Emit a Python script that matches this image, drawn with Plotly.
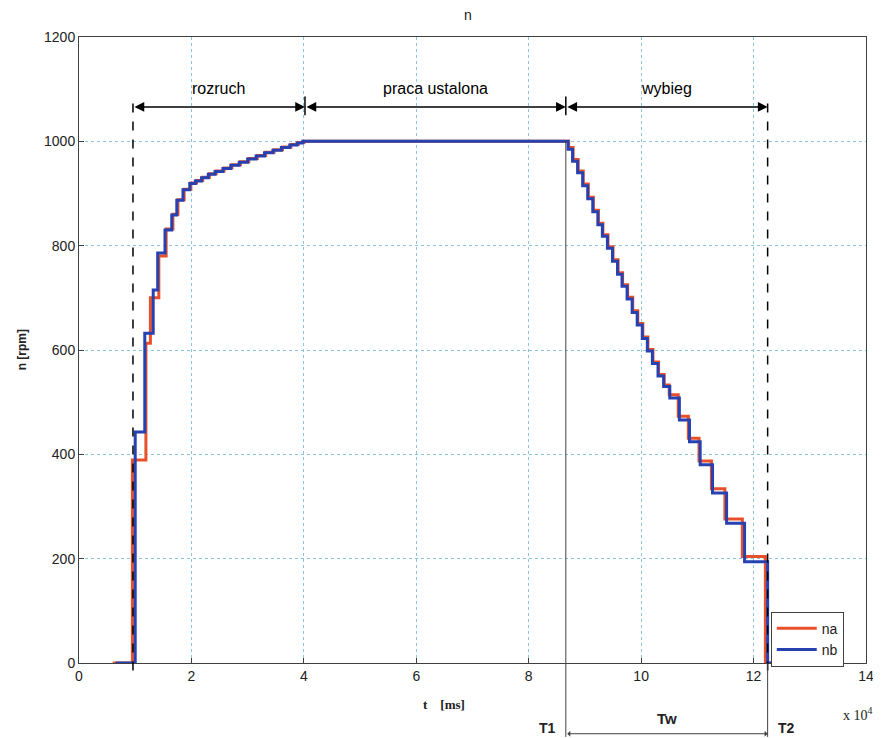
import plotly.graph_objects as go

# ---- data ----
t_na = [0.60, 0.95, 1.19, 1.27, 1.42, 1.55, 1.67, 1.76, 1.87, 1.99, 2.09, 2.20, 2.32, 2.44, 2.58, 2.72, 2.87,
        3.02, 3.17, 3.32, 3.47, 3.62, 3.77, 3.90, 4.00,
        8.71, 8.79, 8.88, 8.97, 9.06, 9.15, 9.24, 9.32, 9.41, 9.50, 9.59, 9.67, 9.76, 9.85, 9.94, 10.03,
        10.12, 10.21, 10.31, 10.41, 10.50, 10.66, 10.84, 11.03, 11.25, 11.49, 11.80, 12.21, 13.40]
n_na = [0, 389, 613, 700, 780, 832, 860, 888, 908, 920, 925, 931, 938, 943, 949, 955, 961,
        967, 973, 979, 984, 989, 994, 998, 1000,
        988, 965, 943, 918, 893, 868, 843, 821, 798, 773, 748, 725, 701, 675, 651, 625,
        601, 577, 553, 533, 514, 473, 431, 387, 334, 276, 204, 0, 0]

t_nb = [0.65, 1.00, 1.17, 1.32, 1.40, 1.53, 1.65, 1.74, 1.85, 1.97, 2.07, 2.18, 2.30, 2.42, 2.56, 2.70, 2.85,
        3.00, 3.15, 3.30, 3.45, 3.60, 3.75, 3.88, 3.98,
        8.70, 8.78, 8.87, 8.96, 9.05, 9.14, 9.23, 9.31, 9.40, 9.49, 9.58, 9.66, 9.75, 9.84, 9.93, 10.02,
        10.11, 10.20, 10.30, 10.40, 10.51, 10.68, 10.86, 11.05, 11.27, 11.52, 11.84, 12.25, 13.40]
n_nb = [0, 443, 632, 715, 786, 830, 859, 887, 907, 919, 924, 930, 937, 942, 948, 954, 960,
        966, 972, 978, 983, 988, 993, 997, 1000,
        985, 962, 940, 915, 890, 865, 840, 818, 795, 770, 745, 722, 698, 672, 648, 622,
        598, 574, 550, 530, 508, 466, 424, 380, 326, 268, 194, 0, 0]

x_ticks = [0, 2, 4, 6, 8, 10, 12, 14]
y_ticks = [0, 200, 400, 600, 800, 1000, 1200]

t_start, t_steady, t_T1, t_T2 = 0.96, 4.02, 8.66, 12.25
phase_labels = ["rozruch", "praca ustalona", "wybieg"]

FONT = "Liberation Sans, Arial, Helvetica, sans-serif"
SERIF = "Liberation Serif, Times New Roman, serif"

W, H = 873, 730
ML, MR, MT, MB = 71, 15, 29, 75
plot_w = W - ML - MR

fig = go.Figure()
fig.add_trace(go.Scatter(x=t_na, y=n_na, mode="lines", name="na", line=dict(color="#e8502a", width=3, shape="hv")))
fig.add_trace(go.Scatter(x=t_nb, y=n_nb, mode="lines", name="nb", line=dict(color="#2741b0", width=3, shape="hv")))

grid = dict(showgrid=True, gridcolor="#8ec4e0", griddash="dot", gridwidth=1,
            showline=True, linecolor="#404040", linewidth=1, mirror=True,
            ticks="inside", ticklen=5, tickcolor="#404040", zeroline=False,
            tickfont=dict(family=FONT, size=14, color="#222"))

fig.update_xaxes(range=[0, 14], tickvals=x_ticks, automargin=False, **grid)
fig.update_yaxes(range=[0, 1200], tickvals=y_ticks, automargin=False, **grid)

shapes = []
for xv in [t_start, t_T2]:
    shapes.append(dict(type="line", xref="x", yref="paper", x0=xv, x1=xv, y0=-0.012, y1=0.904,
                       line=dict(color="black", width=1.5, dash="dash")))
for xv in [t_steady, t_T1]:
    shapes.append(dict(type="line", xref="x", yref="paper", x0=xv, x1=xv, y0=0.875, y1=0.905,
                       line=dict(color="black", width=1.5)))
shapes.append(dict(type="line", xref="x", yref="paper", x0=t_T1, x1=t_T1, y0=-0.118, y1=0.834,
                   line=dict(color="#404040", width=1)))
shapes.append(dict(type="line", xref="x", yref="paper", x0=t_T2, x1=t_T2, y0=-0.118, y1=0.0,
                   line=dict(color="#404040", width=1)))

annotations = []
arrow_y = 1066
bounds = [(t_start, t_steady), (t_steady, t_T1), (t_T1, t_T2)]
for (a, b), lab in zip(bounds, phase_labels):
    annotations.append(dict(x=b, y=arrow_y, ax=a, ay=arrow_y, xref="x", yref="y", axref="x", ayref="y",
                            text="", showarrow=True, arrowhead=2, arrowside="end+start",
                            arrowsize=1.3, arrowwidth=1.5, arrowcolor="black", standoff=0, startstandoff=0))
    annotations.append(dict(x=(a + b) / 2, y=1102, xref="x", yref="y", text=lab, showarrow=False,
                            font=dict(family=FONT, size=16, color="black")))

# bottom Tw arrow (below the axis, so paper coordinates)
tw_px = (t_T2 - t_T1) / 14 * plot_w
annotations.append(dict(x=t_T2, y=-0.113, ax=-tw_px, ay=0, xref="x", yref="paper", axref="pixel", ayref="pixel",
                        text="", showarrow=True, arrowhead=1, arrowside="end+start",
                        arrowsize=1, arrowwidth=1, arrowcolor="#404040", standoff=0, startstandoff=0))
below = [
    ((t_T1 + t_T2) / 2, -0.089, "<b>Tw</b>", FONT, 15),
    (t_T1 - 0.32, -0.104, "<b>T1</b>", FONT, 14),
    (t_T2 + 0.34, -0.104, "<b>T2</b>", FONT, 14),
    (13.85, -0.081, "x 10<sup>4</sup>", SERIF, 14),
    (6.5, -0.067, "<b>t    [ms]</b>", SERIF, 13),
]
for xv, yv, txt, fam, sz in below:
    annotations.append(dict(x=xv, y=yv, xref="x", yref="paper", text=txt, showarrow=False,
                            yanchor="middle", xanchor="center",
                            font=dict(family=fam, size=sz, color="#222")))
annotations.append(dict(x=-0.072, y=0.5, xref="paper", yref="paper", text="<b>n [rpm]</b>", showarrow=False,
                        textangle=-90, xanchor="center", yanchor="middle",
                        font=dict(family=FONT, size=12, color="#222")))
annotations.append(dict(x=0.494, y=1.035, xref="paper", yref="paper", text="n", showarrow=False,
                        yanchor="middle",
                        font=dict(family=FONT, size=14, color="#222")))

fig.update_layout(
    width=W, height=H,
    margin=dict(l=ML, r=MR, t=MT, b=MB, autoexpand=False),
    paper_bgcolor="white", plot_bgcolor="white",
    shapes=shapes, annotations=annotations,
    showlegend=True,
    legend=dict(x=0.879, y=0.082, xanchor="left", yanchor="top", bgcolor="white",
                bordercolor="#404040", borderwidth=1, font=dict(family=FONT, size=14, color="#222"),
                tracegroupgap=0, itemwidth=40),
)

fig.write_html("out.html")
